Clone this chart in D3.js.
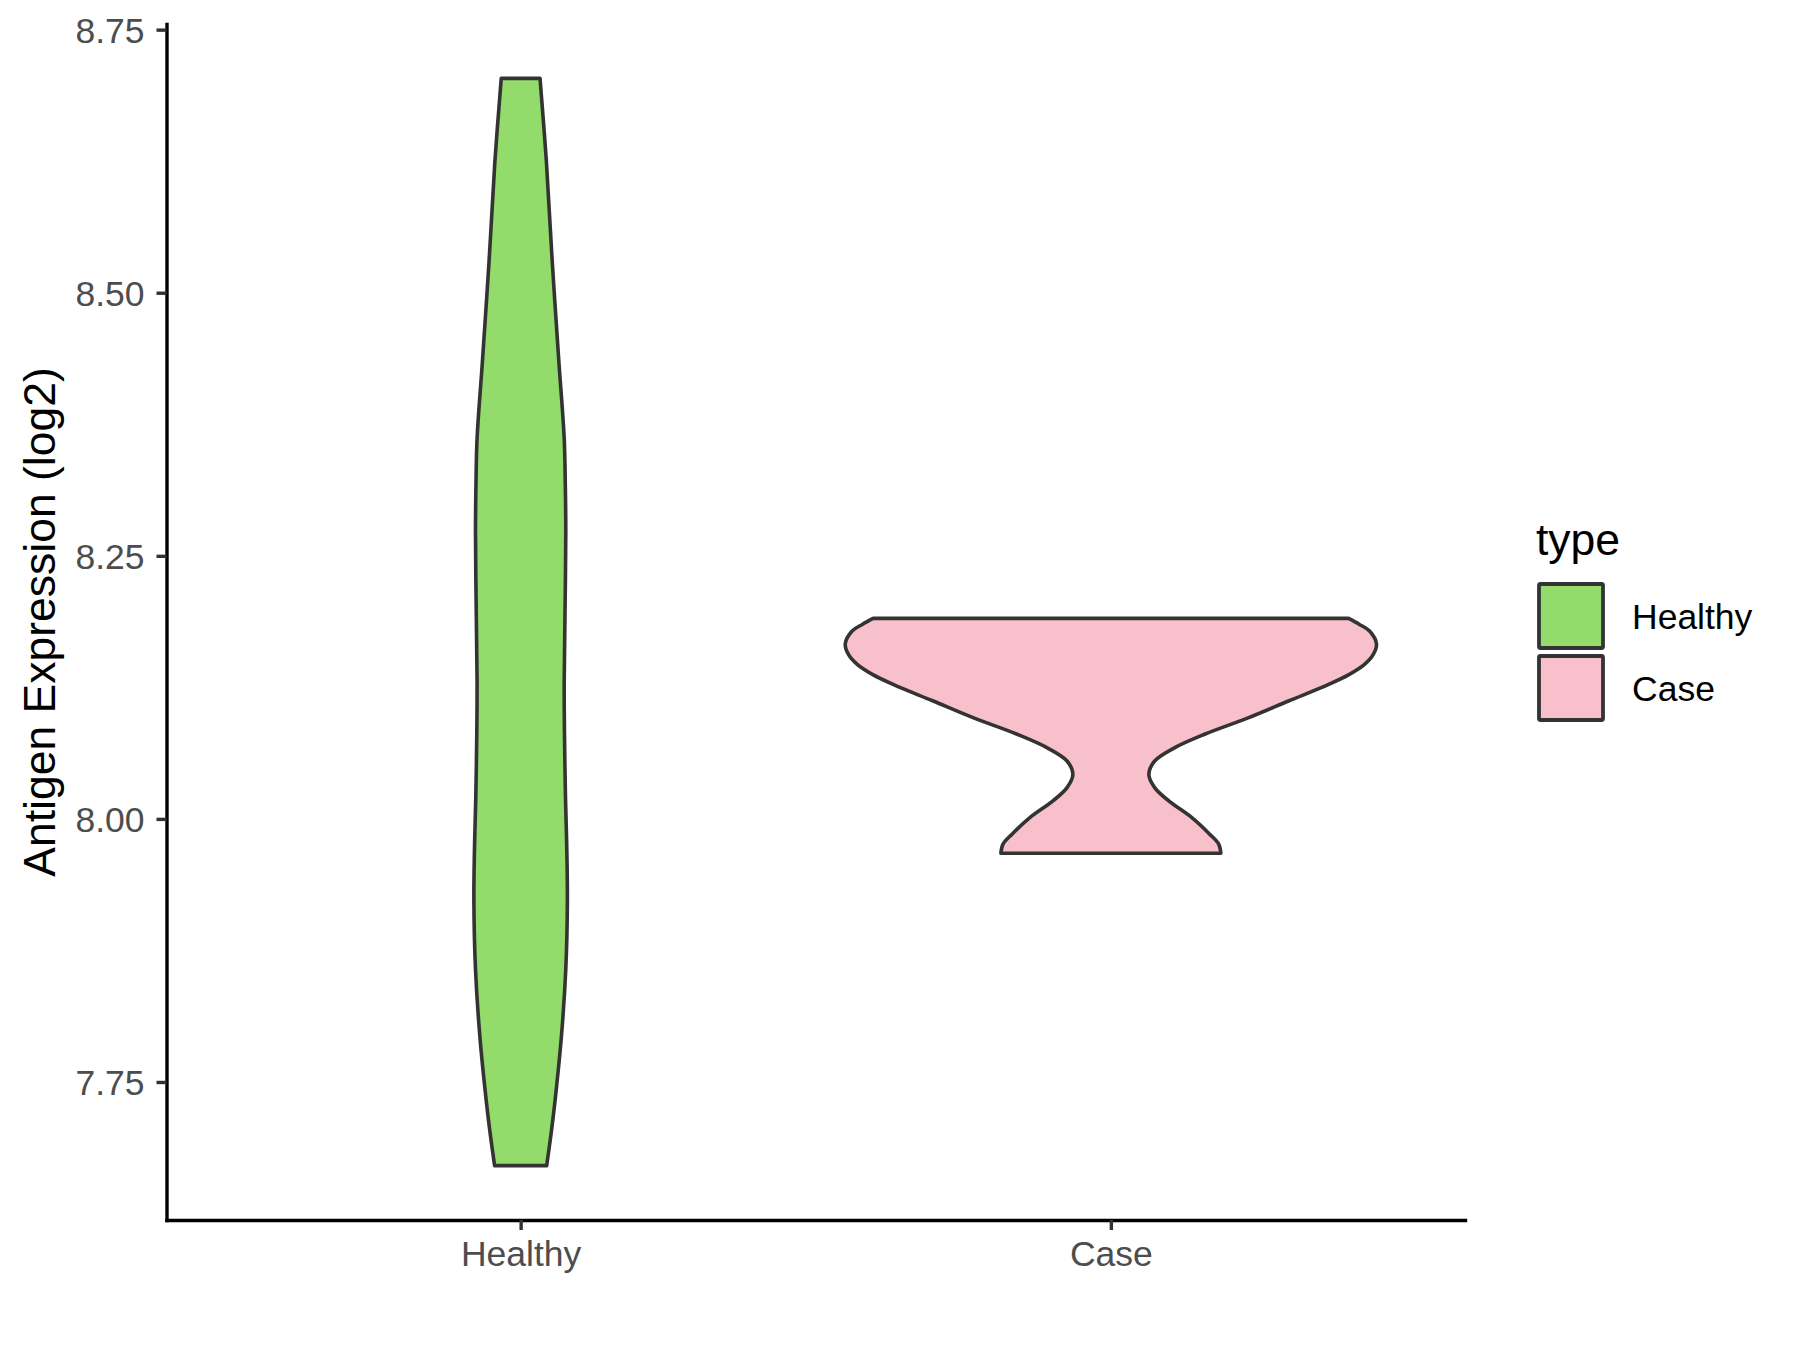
<!DOCTYPE html>
<html>
<head>
<meta charset="utf-8">
<script src="https://cdn.jsdelivr.net/npm/d3@7"></script>
<style>
  html, body { margin: 0; padding: 0; background: #ffffff; }
  svg { display: block; }
</style>
</head>
<body>
<svg id="chart" width="1800" height="1350"></svg>
<script>
// ---------------- data ----------------
const categories = ["Healthy", "Case"];
const seriesColors = ["#93DB6A", "#F8C0CB"];
const yTickValues = [7.75, 8.00, 8.25, 8.50, 8.75];
const yTitle = "Antigen Expression (log2)";
const legendTitle = "type";

// violin outlines: expression value and relative density
const healthyValues  = [7.6705, 7.6996, 7.731, 7.7947, 7.8574, 7.9211, 7.9686, 8.019, 8.0827, 8.1302, 8.1939, 8.2728, 8.3203, 8.3615, 8.4344, 8.5295, 8.6245, 8.7037];
const healthyDensity = [0.098, 0.114, 0.129, 0.154, 0.170, 0.176, 0.174, 0.169, 0.165, 0.164, 0.167, 0.170, 0.168, 0.164, 0.144, 0.119, 0.097, 0.073];

const caseValues  = [7.9674, 7.9760, 7.9855, 8.0012, 8.0171, 8.0297, 8.0424, 8.0550, 8.0677, 8.0804, 8.0962, 8.1120, 8.1278, 8.1373, 8.1468, 8.1563, 8.1664, 8.1785, 8.1848, 8.1905];
const caseDensity = [0.414, 0.406, 0.372, 0.305, 0.218, 0.165, 0.143, 0.165, 0.241, 0.353, 0.519, 0.669, 0.820, 0.898, 0.955, 0.988, 1.000, 0.974, 0.936, 0.895];

// ---------------- layout ----------------
const svg = d3.select("#chart");
const panel = { left: 166.5, right: 1465, top: 24, bottom: 1220 };
const outline = "#333333";
const fontFam = "'Liberation Sans', Arial, Helvetica, sans-serif";

const allVals = healthyValues.concat(caseValues);
const vMin = d3.min(allVals), vMax = d3.max(allVals);
const pad = (vMax - vMin) * 0.05;

const y = d3.scaleLinear().domain([vMin - pad, vMax + pad]).range([panel.bottom, panel.top]);
const x = d3.scalePoint().domain(categories).range([panel.left, panel.right]).padding(0.6);
const maxDens = d3.max(healthyDensity.concat(caseDensity));
const w = d3.scaleLinear().domain([0, maxDens]).range([0, x.step() * 0.45]);

const violins = [
  { cat: "Healthy", vals: healthyValues, dens: healthyDensity, color: seriesColors[0] },
  { cat: "Case", vals: caseValues, dens: caseDensity, color: seriesColors[1] }
];

violins.forEach(v => {
  const pts = v.vals.map((val, i) => ({ v: val, d: v.dens[i] }));
  const cx = x(v.cat);
  const area = d3.area()
    .y(d => y(d.v))
    .x0(d => cx - w(d.d))
    .x1(d => cx + w(d.d))
    .curve(d3.curveCatmullRom.alpha(0.5));
  svg.append("path")
    .attr("d", area(pts))
    .attr("fill", v.color)
    .attr("stroke", outline)
    .attr("stroke-width", 3.6)
    .attr("stroke-linejoin", "round");
});

// ---------------- axes ----------------
const yAxis = d3.axisLeft(y)
  .tickValues(yTickValues)
  .tickFormat(d3.format(".2f"))
  .tickSizeInner(10)
  .tickSizeOuter(0)
  .tickPadding(12);
const gy = svg.append("g").attr("transform", `translate(${panel.left},0)`).call(yAxis);
gy.select(".domain").attr("stroke", "#000").attr("stroke-width", 3.4).attr("stroke-linecap", "square");
gy.selectAll(".tick line").attr("stroke", outline).attr("stroke-width", 3.4);
gy.selectAll(".tick text")
  .attr("fill", "#4D4D4D").attr("font-size", 35.5).attr("font-family", fontFam).attr("dy", "0.36em");

const xAxis = d3.axisBottom(x).tickSizeInner(10).tickSizeOuter(0).tickPadding(6);
const gx = svg.append("g").attr("transform", `translate(0,${panel.bottom})`).call(xAxis);
gx.select(".domain").attr("stroke", "#000").attr("stroke-width", 3.4).attr("stroke-linecap", "square");
gx.selectAll(".tick line").attr("stroke", outline).attr("stroke-width", 3.4);
gx.selectAll(".tick text")
  .attr("fill", "#4D4D4D").attr("font-size", 35.5).attr("font-family", fontFam).attr("dy", "0.85em");

// y title
svg.append("text")
  .attr("transform", `translate(55,${(panel.top + panel.bottom) / 2}) rotate(-90)`)
  .attr("text-anchor", "middle")
  .attr("font-size", 44.5)
  .attr("font-family", fontFam)
  .attr("fill", "#000")
  .text(yTitle);

// ---------------- legend ----------------
const lg = svg.append("g");
lg.append("text")
  .attr("x", 1536).attr("y", 555)
  .attr("font-size", 44.5).attr("font-family", fontFam).attr("fill", "#000")
  .text(legendTitle);
const keySize = 68;
categories.forEach((c, i) => {
  const ky = 584 + i * (keySize + 4);
  lg.append("rect")
    .attr("x", 1539).attr("y", ky)
    .attr("width", keySize - 4).attr("height", keySize - 4)
    .attr("rx", 1.5)
    .attr("fill", seriesColors[i])
    .attr("stroke", outline).attr("stroke-width", 3.8);
  lg.append("text")
    .attr("x", 1632).attr("y", ky + (keySize - 4) / 2)
    .attr("dy", "0.36em")
    .attr("font-size", 35.5).attr("font-family", fontFam).attr("fill", "#000")
    .text(c);
});
</script>
</body>
</html>
